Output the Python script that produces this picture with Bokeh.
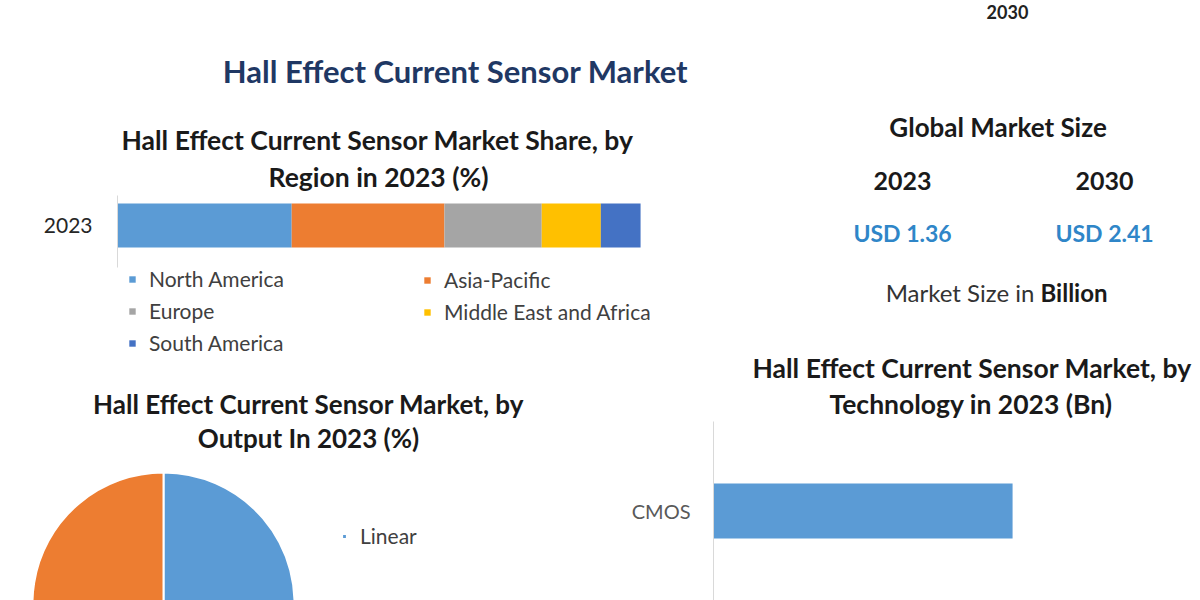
from bokeh.plotting import figure
from bokeh.models import (Range1d, FactorRange, Title, Legend, LegendItem, ColumnDataSource,
                          FixedTicker, GridBox)
from bokeh.core.properties import value
from bokeh.embed import file_html
from bokeh.resources import INLINE
import math

# ---------------- data ----------------
main_title = "Hall Effect Current Sensor Market"
header_year = "2030"

region_title = ["Hall Effect Current Sensor Market Share, by", "Region in 2023 (%)"]
region_year = ["2023"]
regions = ["North America", "Asia-Pacific", "Europe", "Middle East and Africa", "South America"]
region_share = [33.3, 29.2, 18.6, 11.3, 7.6]
region_colors = ["#5B9BD5", "#ED7D31", "#A5A5A5", "#FFC000", "#4472C4"]

size_title = "Global Market Size"
size_years = ["2023", "2030"]
size_values = [1.36, 2.41]
size_unit = "Billion"

output_title = ["Hall Effect Current Sensor Market, by", "Output In 2023 (%)"]
outputs = ["Linear", "Threshold"]
output_share = [55.0, 45.0]
output_colors = ["#5B9BD5", "#ED7D31"]

tech_title = ["Hall Effect Current Sensor Market, by", "Technology in 2023 (Bn)"]
technologies = ["CMOS"]
tech_values = [0.60]
tech_color = "#5B9BD5"

FONT = "Lato"
TITLE_COLOR = "#1a1a1a"


def clean(p):
    p.outline_line_color = None
    p.xgrid.visible = False
    p.ygrid.visible = False
    p.background_fill_color = "white"
    p.border_fill_color = "white"
    p.frame_align = False


def add_titles(p, lines, size="26px", gap=0, standoff=0, align="center", offsets=(0, 0)):
    # lines[0] is the upper line; the line nearest to the frame is added first
    for i, (line, off) in enumerate(reversed(list(zip(lines, offsets)))):
        p.add_layout(Title(text=line, align=align, offset=off, text_font=FONT,
                           text_font_size=size, text_font_style="bold", text_color=TITLE_COLOR,
                           standoff=(standoff if i == 0 else gap)), "above")


def style_cat_axis(ax, size, color, standoff):
    ax.axis_line_color = "#D9D9D9"
    ax.major_tick_line_color = None
    ax.minor_tick_line_color = None
    ax.major_tick_out = 0
    ax.major_tick_in = 0
    ax.major_label_standoff = standoff
    ax.major_label_text_font = FONT
    ax.major_label_text_font_size = size
    ax.major_label_text_color = color


def make_legend(items, loc):
    return Legend(items=items, location=loc, margin=0, padding=0, spacing=7,
                  glyph_width=8, glyph_height=8, label_standoff=13, label_height=24,
                  label_text_font=FONT, label_text_font_size="21px", label_text_color="#404040",
                  border_line_color=None, background_fill_alpha=0)


# ---------------- header ----------------
hdr = figure(width=1200, height=100, x_range=Range1d(0, 1200), y_range=Range1d(100, 0),
             toolbar_location=None, output_backend="svg", min_border=0)
clean(hdr)
hdr.axis.visible = False
hdr.text(x=[455], y=[70], text=[main_title], text_font=value(FONT), text_font_style="bold",
         text_font_size="31px", text_color="#1F3864", text_align="center", text_baseline="middle")
hdr.text(x=[1007], y=[11], text=[header_year], text_font=value(FONT), text_font_style="bold",
         text_font_size="18px", text_color="#222222", text_align="center",
         text_baseline="middle")

# ---------------- stacked region bar ----------------
sb = figure(width=700, height=257, y_range=Range1d(-1.571, 0.357), x_range=Range1d(0, 110.5),
            toolbar_location=None, output_backend="svg",
            min_border_left=117, min_border_right=5, min_border_top=95, min_border_bottom=0)
clean(sb)
year_idx = list(range(len(region_year)))
src = {"y": year_idx}
for r, v in zip(regions, region_share):
    src[r] = [v]
rs = sb.hbar_stack(regions, y="y", height=0.524, color=region_colors, line_width=0,
                   source=ColumnDataSource(src))
sb.xaxis.visible = False
style_cat_axis(sb.yaxis[0], "21px", "#262626", 25)
sb.yaxis.ticker = FixedTicker(ticks=year_idx)
sb.yaxis.major_label_overrides = {i: y for i, y in zip(year_idx, region_year)}
sb.yaxis.bounds = (-0.5, 0.357)
add_titles(sb, region_title, size="26.5px", gap=0, standoff=6, align="left", offsets=(4, 151))
col1 = [0, 2, 4]
col2 = [1, 3]
sb.add_layout(make_legend([LegendItem(label=regions[i], renderers=[rs[i]]) for i in col1], (11, 2)))
sb.add_layout(make_legend([LegendItem(label=regions[i], renderers=[rs[i]]) for i in col2], (306, 33)))

# ---------------- market size text ----------------
ms = figure(width=500, height=247, x_range=Range1d(-1.0, 1.475), y_range=Range1d(347, 100),
            toolbar_location=None, output_backend="svg", min_border=0)
clean(ms)
ms.axis.visible = False
year_x = list(range(len(size_years)))
ms.text(x=[0.473], y=[126], text=[size_title], text_font=value(FONT), text_font_style="bold",
        text_font_size="26px", text_color=TITLE_COLOR, text_align="center", text_baseline="middle")
ms.text(x=year_x, y=[180] * len(size_years), text=size_years, text_font=value(FONT),
        text_font_style="bold", text_font_size="25px", text_color=TITLE_COLOR,
        text_align="center", text_baseline="middle")
ms.text(x=year_x, y=[232] * len(size_years), text=["USD %.2f" % v for v in size_values],
        text_font=value(FONT), text_font_style="bold", text_font_size="23px",
        text_color="#2F86C8", text_align="center", text_baseline="middle")
ms.text(x=[0.683], y=[292], text=["Market Size in "], text_font=value(FONT),
        text_font_size="24px", text_color="#333333", text_align="right", text_baseline="middle")
ms.text(x=[0.683], y=[292], text=[size_unit], text_font=value(FONT), text_font_style="bold",
        text_font_size="24px", text_color="#1a1a1a", text_align="left", text_baseline="middle")

# ---------------- pie ----------------
pie = figure(width=616, height=243, x_range=Range1d(-163, 453), y_range=Range1d(3, 150),
             toolbar_location=None, output_backend="svg", min_border=0, min_border_top=96)
clean(pie)
pie.axis.visible = False
add_titles(pie, output_title)
tot = sum(output_share)
starts, ends = [], []
acc = 0.0
for v in output_share:
    starts.append(math.pi / 2 - 2 * math.pi * acc / tot)
    acc += v
    ends.append(math.pi / 2 - 2 * math.pi * acc / tot)
psrc = ColumnDataSource(dict(name=outputs, start=starts, end=ends, color=output_colors))
wr = pie.wedge(x=0, y=0, radius=131, start_angle="start", end_angle="end", direction="clock",
               fill_color="color", line_color="white", line_width=2, source=psrc)
pleg = Legend(items=[LegendItem(label=outputs[0], renderers=[wr], index=0)],
              location=(341, 52), margin=0, padding=0, glyph_width=6, glyph_height=6,
              label_standoff=13, label_text_font=FONT, label_text_font_size="21px",
              label_text_color="#404040", border_line_color=None, background_fill_alpha=0)
pie.add_layout(pleg)

# ---------------- technology bar ----------------
tb = figure(width=575, height=253, y_range=FactorRange(*technologies), x_range=Range1d(0, 0.977),
            toolbar_location=None, output_backend="svg",
            min_border_left=88, min_border_right=0, min_border_top=74, min_border_bottom=0)
clean(tb)
tb.hbar(y=technologies, right=tech_values, left=0, height=0.307, color=tech_color, line_width=0)
tb.xaxis.visible = False
style_cat_axis(tb.yaxis[0], "20px", "#595959", 23)
add_titles(tb, tech_title, size="26.5px", gap=0, standoff=4, align="left", offsets=(39, 116))

grid = GridBox(children=[(hdr, 0, 0, 1, 3), (sb, 1, 0, 2, 2), (ms, 1, 2, 1, 1),
                         (pie, 3, 0, 1, 1), (tb, 2, 1, 2, 2)],
               rows=["100px", "247px", "10px", "243px"], cols=["625px", "75px", "500px"],
               spacing=0)
open("out.html", "w").write(file_html(grid, INLINE))
